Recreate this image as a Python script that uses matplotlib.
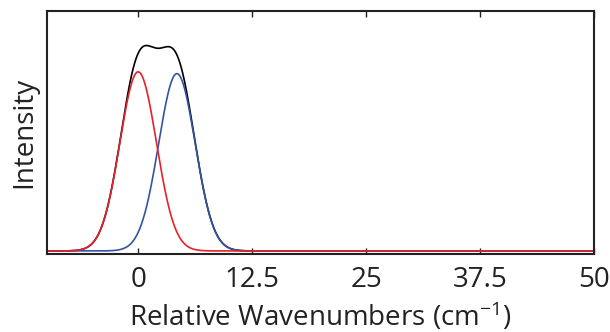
import numpy as np
import matplotlib.pyplot as plt

plt.rcParams['font.family'] = ['Open Sans', 'DejaVu Sans']
plt.rcParams['mathtext.default'] = 'regular'

# peak parameters
peak_centers = [0.0, 4.25]
peak_heights = [1.0, 0.99]
peak_widths = [2.0, 2.0]
peak_colors = ['#e8202a', '#3553a3']

xticks = [0, 12.5, 25, 37.5, 50]
xticklabels = ['0', '12.5', '25', '37.5', '50']

x = np.linspace(-10, 50, 1500)
curves = [h * np.exp(-(x - c) ** 2 / (2 * w ** 2))
          for c, h, w in zip(peak_centers, peak_heights, peak_widths)]
total = curves[0] + curves[1]

fig = plt.figure(figsize=(6.1, 3.32), dpi=100)
ax = fig.add_axes([0.077, 0.235, 0.897, 0.732])

ax.plot(x, total, color='black', lw=1.2)
ax.plot(x, curves[1], color=peak_colors[1], lw=1.2)
ax.plot(x, curves[0], color=peak_colors[0], lw=1.2)

ax.set_xlim(-10, 50)
ax.set_ylim(-0.017, 1.34)
ax.set_xticks(xticks)
ax.set_xticklabels(xticklabels)
ax.set_yticks([])
ax.tick_params(axis='x', direction='in', top=True, length=4, width=1,
               labelsize=20, pad=9, colors='#222222')
for s in ax.spines.values():
    s.set_linewidth(1.5)
    s.set_color('#222222')

ax.set_xlabel('Relative Wavenumbers (cm$^{-1}$)', fontsize=20, color='#222222', labelpad=4.5)
ax.set_ylabel('Intensity', fontsize=20, color='#222222', labelpad=6)

fig.savefig('out.png', dpi=100)
